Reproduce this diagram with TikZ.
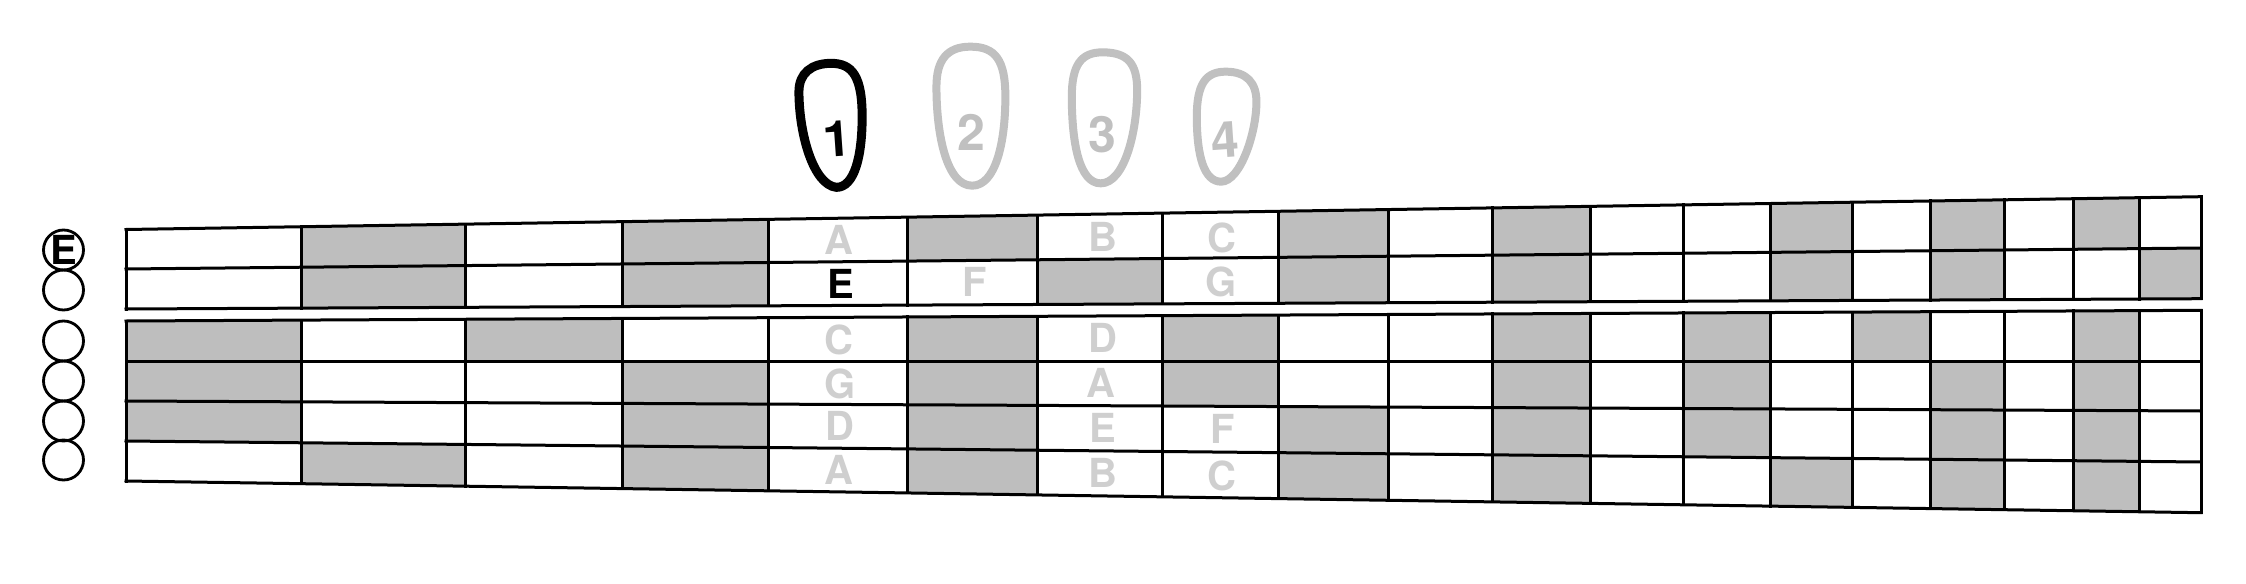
\documentclass[tikz,border=0pt]{standalone}
\usepackage{fontspec}
\setmainfont{TeX Gyre Heros}
\definecolor{cellgray}{HTML}{BEBEBE}
\definecolor{fingergray}{HTML}{C0C0C0}
\definecolor{notegray}{HTML}{CFCFCF}
\def\xs{{126,301,465,622,768,907,1037.5,1162,1278,1388,1492,1590,1683,1770,1852,1930,2004,2073,2139,2201}}
\def\yl{{229.5,269,309,321,361,401,441,481}}
\def\yr{{196.7,248,298.7,310.3,361,411,462,512.7}}
\newcommand{\gp}[2]{({\xs[#2]},{\yl[#1]+(\yr[#1]-\yl[#1])*((\xs[#2]-126)/2075)})}
\tikzset{
  gridline/.style={line width=1.5pt,line cap=rect,black},
  cellfill/.style={fill=cellgray},
  openstring/.style={circle,draw=black,line width=1.4pt,minimum size=20pt,inner sep=0pt},
  note/.style={font=\fontsize{20}{20}\selectfont\bfseries,text=notegray,inner sep=0pt},
  rootnote/.style={font=\fontsize{20}{20}\selectfont\bfseries,text=black,inner sep=0pt},
  fingerblack/.style={draw=black,line width=4.5pt},
  fingeridle/.style={draw=fingergray,line width=4pt},
  digit/.style={font=\fontsize{25}{25}\selectfont\bfseries,inner sep=0pt},
  zoomed/.style={shift={(740,20)},x=0.17857pt,y=-0.16667pt}
}
\begin{document}
\begin{tikzpicture}[x=0.5pt,y=-0.5pt]
\useasboundingbox (0,0) rectangle (2246,583);
\fill[white] (0,0) rectangle (2246,583);
% shaded cells
\foreach \r/\cols in {0/{1,3,5,8,10,13,15,17},1/{1,3,6,8,10,13,15,18},3/{0,2,5,7,10,12,14,17},4/{0,3,5,7,10,12,15,17},5/{0,3,5,8,10,12,15,17},6/{1,3,5,8,10,13,15,17}}{
  \foreach \c in \cols {
    \pgfmathtruncatemacro{\rr}{\r+1}
    \pgfmathtruncatemacro{\cc}{\c+1}
    \fill[cellfill] \gp{\r}{\c} -- \gp{\r}{\cc} -- \gp{\rr}{\cc} -- \gp{\rr}{\c} -- cycle;
  }
}
% strings
\foreach \j in {0,...,7}{ \draw[gridline] \gp{\j}{0} -- \gp{\j}{19}; }
% frets
\foreach \c in {0,...,19}{
  \draw[gridline] \gp{0}{\c} -- \gp{2}{\c};
  \draw[gridline] \gp{3}{\c} -- \gp{7}{\c};
}
% open strings
\node[openstring] (s1) at (63.5,250) {};
\node[openstring] (s2) at (63.5,290) {};
\node[openstring] (s3) at (63.5,341) {};
\node[openstring] (s4) at (63.5,381) {};
\node[openstring] (s5) at (63.5,421) {};
\node[openstring] (s6) at (63.5,460) {};
\node[rootnote] (rootlabel) at (63.5,250) {E};
% notes
\node[note] (n1) at (839,240) {A};
\node[note] (n2) at (1103,237) {B};
\node[note] (n3) at (1222,238) {C};
\node[rootnote] (n4) at (841,284) {E};
\node[note] (n5) at (975,282) {F};
\node[note] (n6) at (1221,281.5) {G};
\node[note] (n7) at (839,340) {C};
\node[note] (n8) at (1103,338) {D};
\node[note] (n9) at (840,384) {G};
\node[note] (n10) at (1101,383) {A};
\node[note] (n11) at (840,426) {D};
\node[note] (n12) at (1103,428) {E};
\node[note] (n13) at (1223,429) {F};
\node[note] (n14) at (839,470) {A};
\node[note] (n15) at (1103,473) {B};
\node[note] (n16) at (1222,476) {C};
% fingers
\begin{scope}[zoomed]
\draw[fingerblack] (270,502) .. controls (205,495) and (165,340) .. (165,215)
  .. controls (165,160) and (200,130) .. (255,130)
  .. controls (315,130) and (342,170) .. (342,290)
  .. controls (342,410) and (320,502) .. (270,502) -- cycle;
\draw[fingeridle] (650,497) .. controls (580,497) and (550,350) .. (550,200)
  .. controls (550,120) and (580,80) .. (645,80)
  .. controls (715,80) and (743,120) .. (743,230)
  .. controls (743,370) and (715,497) .. (650,497) -- cycle;
\draw[fingeridle] (1010,490) .. controls (950,490) and (929,370) .. (929,230)
  .. controls (929,135) and (955,97) .. (1015,97)
  .. controls (1085,97) and (1112,130) .. (1112,210)
  .. controls (1112,340) and (1075,490) .. (1010,490) -- cycle;
\draw[fingeridle] (1347,485) .. controls (1300,485) and (1279,410) .. (1279,290)
  .. controls (1279,190) and (1305,155) .. (1360,155)
  .. controls (1420,155) and (1446,190) .. (1446,245)
  .. controls (1446,340) and (1400,485) .. (1347,485) -- cycle;
\node[digit,text=black,rotate=4] (d1) at (273,357) {1};
\node[digit,text=fingergray] (d2) at (648,337) {2};
\node[digit,text=fingergray] (d3) at (1014,343) {3};
\node[digit,text=fingergray,rotate=4] (d4) at (1357,360) {4};
\end{scope}
\end{tikzpicture}
\end{document}
